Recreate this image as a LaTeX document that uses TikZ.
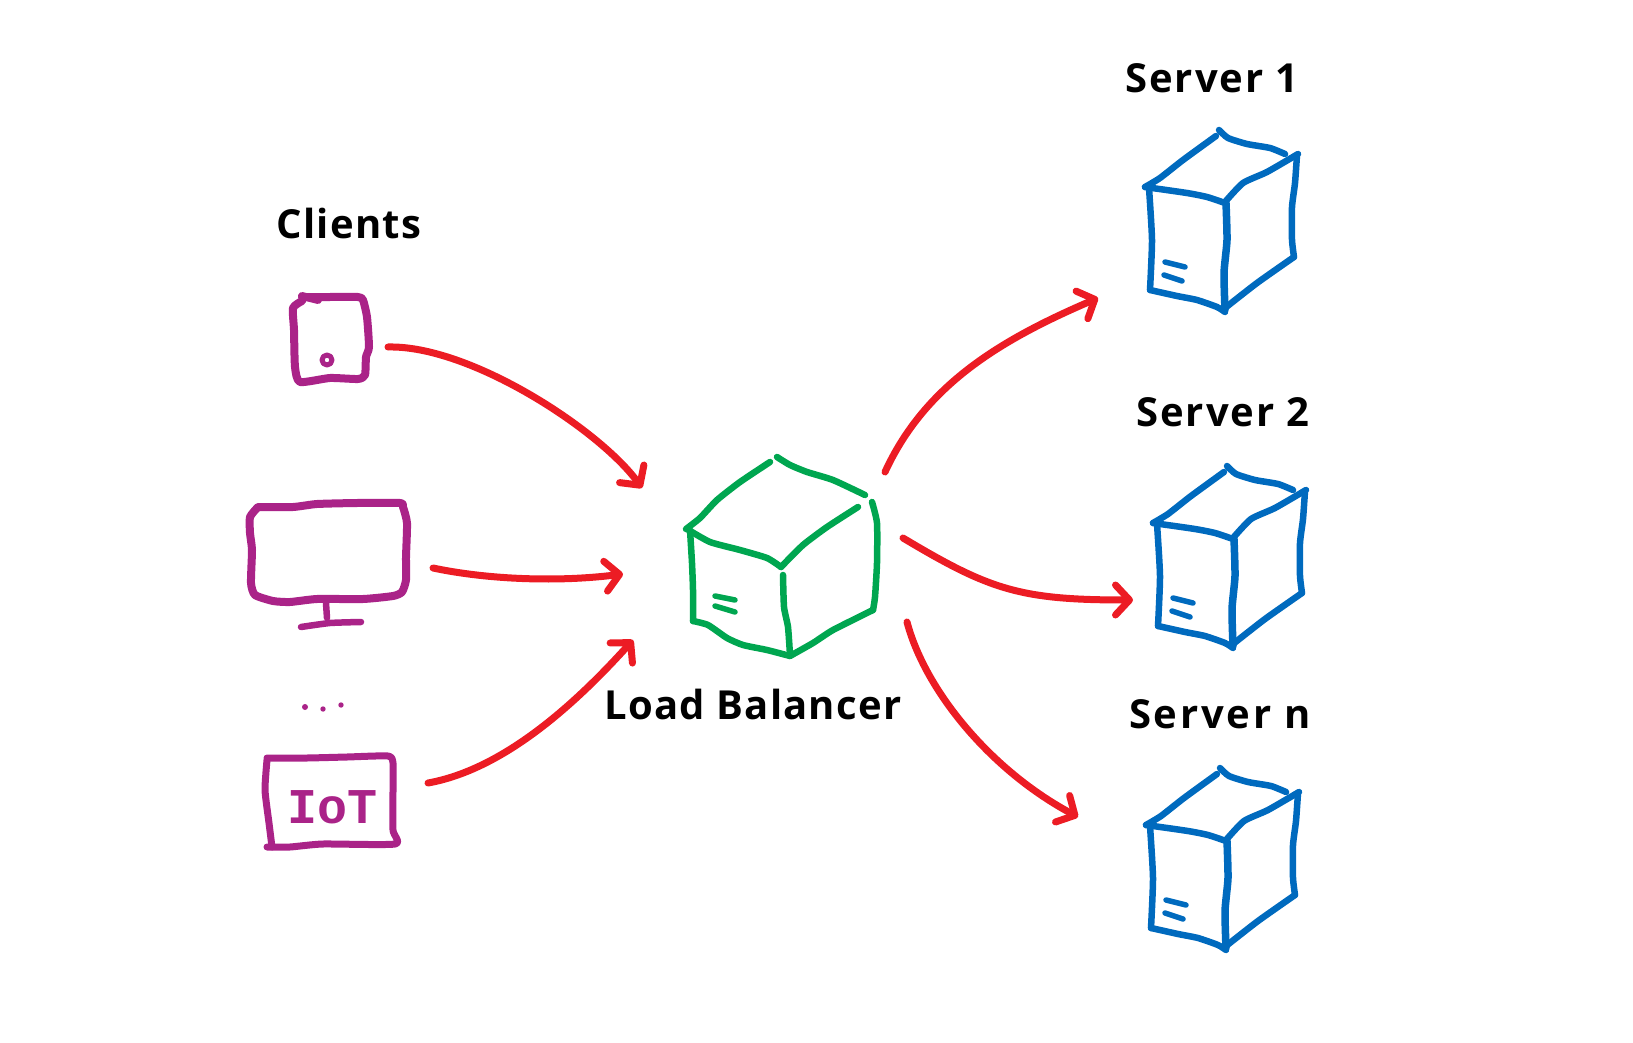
\documentclass[tikz,border=0pt]{standalone}
\usepackage{fontspec}
\setmainfont{Open Sans}
\newfontfamily\iotfont{Liberation Mono}
\usetikzlibrary{arrows.meta}
\definecolor{sketchpurple}{RGB}{170,35,136}
\definecolor{sketchred}{RGB}{236,28,36}
\definecolor{sketchgreen}{RGB}{0,166,80}
\definecolor{sketchblue}{RGB}{0,106,190}
\tikzset{
  stroke/.style={line cap=round,line join=round,line width=6.5pt},
  device/.style={stroke,draw=sketchpurple,line width=8pt},
  lbline/.style={stroke,draw=sketchgreen},
  srvline/.style={stroke,draw=sketchblue},
  conn/.style={stroke,draw=sketchred,line width=7pt,-{Straight Barb[round,length=14pt,width=30pt]}},
  hand/.style={text=black,font=\fontsize{40}{44}\selectfont\bfseries,inner sep=0pt},
  serverbox/.pic={
    \draw[srvline] plot[smooth] coordinates {(1145,187) (1160,178) (1183,160) (1216,136)};
    \draw[srvline] plot[smooth] coordinates {(1219,130) (1228,138) (1247,144) (1270,148) (1285,154)};
    \draw[srvline] plot[smooth] coordinates {(1145,187) (1187,193) (1207,197) (1225,203)};
    \draw[srvline] plot[smooth] coordinates {(1225,202) (1243,183) (1267,172) (1298,154)};
    \draw[srvline,line width=7.5pt] plot[smooth] coordinates {(1226,203) (1227,240) (1224,273) (1225,310)};
    \draw[srvline] plot[smooth] coordinates {(1149,188) (1152,240) (1150,290)};
    \draw[srvline] plot[smooth] coordinates {(1150,290) (1177,296) (1197,300) (1217,307) (1225,312)};
    \draw[srvline] plot[smooth] coordinates {(1225,308) (1257,283) (1294,257)};
    \draw[srvline] plot[smooth] coordinates {(1297,155) (1295,183) (1292,207) (1292,240) (1294,257)};
    \draw[srvline,line width=5.5pt] (1165,262) -- (1185,267);
    \draw[srvline,line width=5.5pt] (1164,275) -- (1182,281);
  }
}
\begin{document}
\begin{tikzpicture}[x=1pt,y=-1pt,tension=0.35]
\useasboundingbox (0,0) rectangle (1633,1043);
% labels
\node[hand] (clients) at (349,224) {\addfontfeatures{LetterSpace=3}Clients};
\node[hand] (lblabel) at (753,704) {\addfontfeatures{LetterSpace=3}Load Balancer};
\node[hand] (s1label) at (1212,78) {\addfontfeatures{LetterSpace=5}Server 1};
\node[hand] (s2label) at (1223,412) {\addfontfeatures{LetterSpace=5}Server 2};
\node[hand] (snlabel) at (1220,714) {\addfontfeatures{LetterSpace=7}Server n};
% tablet
\draw[device] (302,296) -- (318,300);
\draw[device] plot[smooth] coordinates {(302,301) (293,308) (294,330) (295,367) (300,382) (330,378) (358,379) (365,375) (366,357) (369,347) (367,317) (363,300) (358,297) (330,297) (302,297)};
\draw[device,line width=5pt] (327,360) circle (5);
% monitor
\draw[device] plot[smooth] coordinates {(258,507) (250,517) (250,533) (252,550) (251,583) (255,595) (273,601) (290,602) (317,599) (363,599) (393,596) (402,592) (406,580) (406,557) (407,523) (403,507) (400,503) (357,503) (317,504) (293,507) (258,507)};
\draw[device,line width=6.5pt] (326,603) -- (327,618);
\draw[device,line width=6.5pt] plot[smooth] coordinates {(301,627) (330,623) (361,622)};
% dots
\fill[sketchpurple] (305,707) circle (3) (323,709) circle (2.7) (341,705) circle (2.7);
% IoT
\draw[device,line width=7pt] plot[smooth] coordinates {(267,760) (265,790) (269,823) (272,847)};
\draw[device,line width=7pt] plot[smooth] coordinates {(267,847) (290,847) (323,844) (395,844) (393,830) (393,790) (393,763) (388,756) (347,757) (307,758) (267,758)};
\node[text=sketchpurple,font=\iotfont\fontsize{50}{54}\selectfont\bfseries,inner sep=0pt] (iot) at (333,807) {IoT};
% load balancer
\draw[lbline] plot[smooth] coordinates {(686,529) (700,518) (717,500) (740,482) (770,462)};
\draw[lbline] plot[smooth] coordinates {(777,457) (790,465) (807,472) (833,480) (865,495)};
\draw[lbline] plot[smooth] coordinates {(687,529) (710,542) (740,550) (767,558) (781,567)};
\draw[lbline] plot[smooth] coordinates {(781,567) (803,545) (827,527) (858,507)};
\draw[lbline] plot[smooth] coordinates {(783,575) (784,607) (788,627) (790,655)};
\draw[lbline] plot[smooth] coordinates {(690,530) (692,563) (693,590) (693,621)};
\draw[lbline] plot[smooth] coordinates {(693,621) (708,625) (727,638) (743,645) (767,650) (790,656)};
\draw[lbline] plot[smooth] coordinates {(790,656) (813,643) (833,630) (873,610)};
\draw[lbline] plot[smooth] coordinates {(872,502) (877,523) (877,563) (875,597) (873,610)};
\draw[lbline,line width=5.5pt] (715,596) -- (735,600);
\draw[lbline,line width=5.5pt] (715,606) -- (735,612);
% servers
\pic at (0,0) {serverbox};
\pic at (8,336) {serverbox};
\pic at (1,638) {serverbox};
% connector ends
\coordinate (tabletout) at (388,347);
\coordinate (monitorout) at (433,568);
\coordinate (iotout) at (428,783);
\coordinate (lbinA) at (642,488);
\coordinate (lbinB) at (623,574);
\coordinate (lbinC) at (633,640);
\coordinate (lboutA) at (885,472);
\coordinate (lboutB) at (903,538);
\coordinate (lboutC) at (907,622);
\coordinate (srvinA) at (1098,298);
\coordinate (srvinB) at (1133,600);
\coordinate (srvinC) at (1078,817);
% connectors
\draw[conn] (tabletout) .. controls (470,345) and (600,430) .. (lbinA);
\draw[conn] (monitorout) .. controls (490,580) and (560,582) .. (lbinB);
\draw[conn] (iotout) .. controls (500,770) and (570,710) .. (lbinC);
\draw[conn] (lboutA) .. controls (925,385) and (1000,340) .. (srvinA);
\draw[conn] (lboutB) .. controls (990,590) and (1020,600) .. (srvinB);
\draw[conn] (lboutC) .. controls (925,690) and (990,770) .. (srvinC);
\end{tikzpicture}
\end{document}
